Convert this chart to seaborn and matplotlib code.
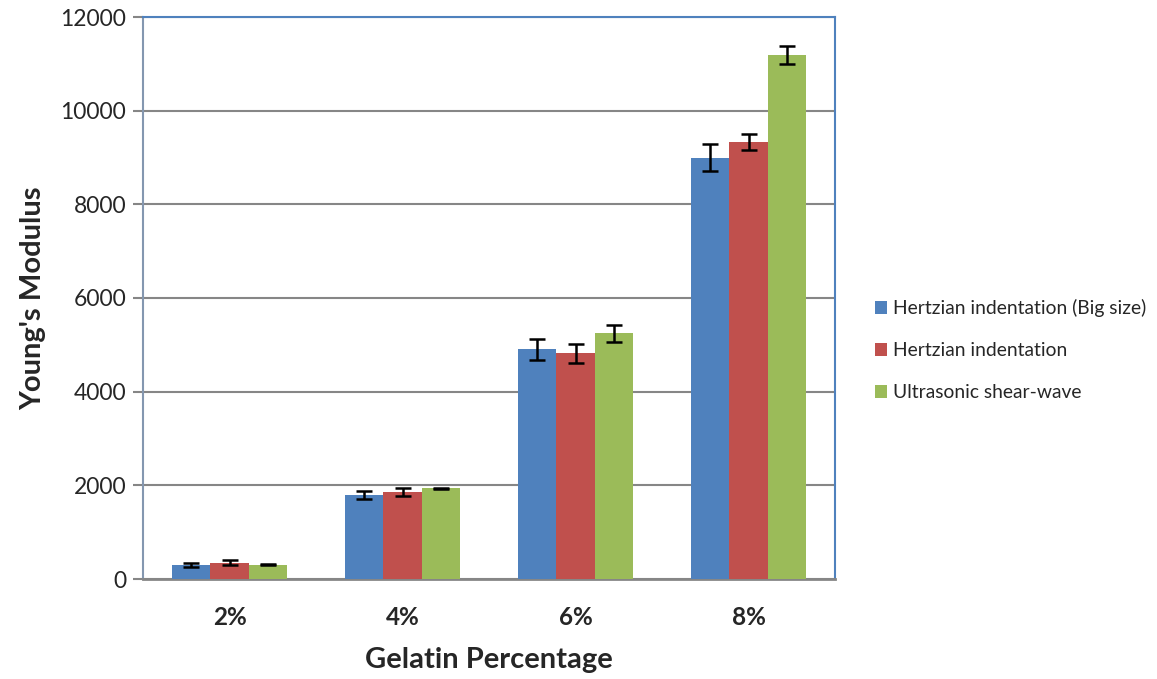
import numpy as np
import pandas as pd
import matplotlib
matplotlib.use("Agg")
import matplotlib.pyplot as plt
import seaborn as sns

categories = ["2%", "4%", "6%", "8%"]
series_names = ["Hertzian indentation (Big size)", "Hertzian indentation", "Ultrasonic shear-wave"]
big_size = [300, 1787, 4901, 8997]
hertzian = [351, 1858, 4816, 9332]
ultrasonic = [308, 1936, 5243, 11188]
big_size_err = [35, 85, 216, 288]
hertzian_err = [45, 80, 203, 167]
ultrasonic_err = [10, 15, 174, 195]
colors = ["#4F81BD", "#C0504D", "#9BBB59"]
yticks = [0, 2000, 4000, 6000, 8000, 10000, 12000]

values = [big_size, hertzian, ultrasonic]
errors = [big_size_err, hertzian_err, ultrasonic_err]
rows = []
for name, vals, errs in zip(series_names, values, errors):
    for c, v, e in zip(categories, vals, errs):
        rows.append({"cat": c, "series": name, "val": v, "err": e})
df = pd.DataFrame(rows)

sns.set_style("white")
plt.rcParams['font.family'] = ['Lato', 'DejaVu Sans']

fig = plt.figure(figsize=(11.57, 6.79), dpi=100)
ax = fig.add_axes([143/1157, 100/679, 692/1157, 562/679])

sns.barplot(data=df, x="cat", y="val", hue="series", order=categories,
            hue_order=series_names, palette=colors, errorbar=None,
            width=0.665, gap=0, saturation=1, ax=ax, zorder=3, linewidth=0)

# error bars from bar patch positions
for container, name in zip(ax.containers, series_names):
    sub = df[df.series == name].set_index("cat").loc[categories]
    xs = [p.get_x() + p.get_width() / 2 for p in container.patches]
    ax.errorbar(xs, sub["val"].values, yerr=sub["err"].values, fmt="none",
                ecolor="black", elinewidth=1.8, capsize=6, capthick=1.8, zorder=4)

ax.set_ylim(0, 12000)
ax.set_xlim(-0.5, 3.5)
ax.set_yticks(yticks)
ax.set_yticklabels([str(t) for t in yticks], fontsize=16.5)
ax.yaxis.grid(True, color="#868686", linewidth=1.5, zorder=0)
ax.set_axisbelow(True)
ax.tick_params(axis="y", left=True, length=7, width=1.5, color="#868686", pad=5)
ax.tick_params(axis="x", bottom=False, pad=16)
for lbl in ax.get_xticklabels():
    lbl.set_fontsize(17.5)
    lbl.set_fontweight("bold")

ax.set_xlabel("Gelatin Percentage", fontsize=21, fontweight="bold", labelpad=13)
ax.set_ylabel("Young's Modulus", fontsize=21, fontweight="bold", labelpad=10)

for s in ["top", "right"]:
    ax.spines[s].set_color("#4F81BD")
    ax.spines[s].set_linewidth(1.5)
ax.spines["left"].set_color("#8497B0")
ax.spines["left"].set_linewidth(1.5)
ax.spines["bottom"].set_color("#868686")
ax.spines["bottom"].set_linewidth(2)

handles, labels = ax.get_legend_handles_labels()
leg = ax.legend(handles, labels, loc="center left", bbox_to_anchor=(1.032, 0.407),
                frameon=False, fontsize=13.9, handlelength=0.65, handleheight=0.65,
                handletextpad=0.3, labelspacing=1.3)

fig.savefig("out.png", dpi=100)
